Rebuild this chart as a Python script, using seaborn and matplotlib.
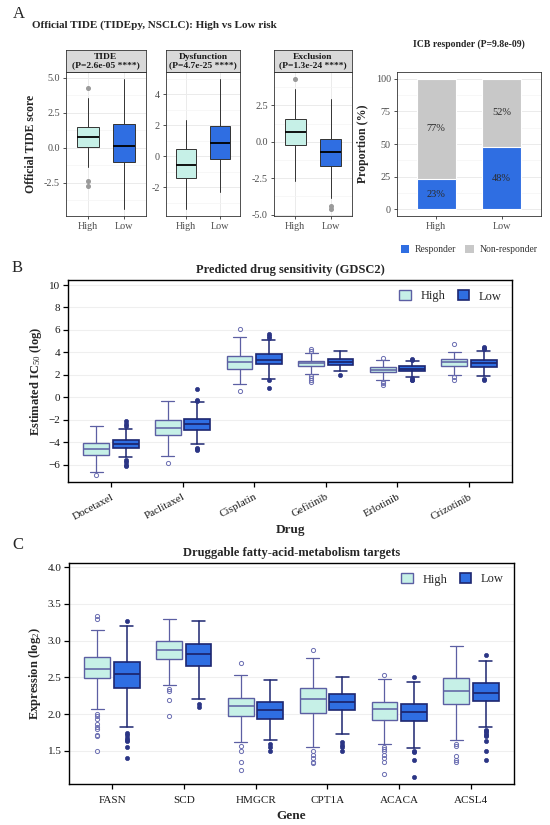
import numpy as np
import matplotlib
matplotlib.use('Agg')
import matplotlib.pyplot as plt
from matplotlib.patches import Patch
from matplotlib.ticker import MultipleLocator
import seaborn as sns

# ---- A: official TIDE facets (box stats, [High, Low]) ----
facet_titles = ['TIDE\n(P=2.6e-05 ****)', 'Dysfunction\n(P=4.7e-25 ****)', 'Exclusion\n(P=1.3e-24 ****)']
risk_groups = ['High', 'Low']
tide_med = [[0.80, 0.14], [-0.57, 0.85], [0.65, -0.71]]
tide_q1 = [[0.09, -1.04], [-1.40, -0.18], [-0.25, -1.66]]
tide_q3 = [[1.51, 1.68], [0.46, 1.98], [1.56, 0.20]]
tide_lo = [[-1.40, -4.40], [-3.44, -2.30], [-2.68, -3.86]]
tide_hi = [[3.57, 4.95], [2.35, 5.03], [3.60, 2.94]]
tide_out = [[[4.30, -2.34, -2.74], []], [[], []], [[4.35], [-4.38, -4.65]]]
tide_yticks = [[-2.5, 0.0, 2.5, 5.0], [-2, 0, 2, 4], [-5.0, -2.5, 0.0, 2.5]]
tide_tickfmt = ['{:.1f}', '{:.0f}', '{:.1f}']

# ---- A: ICB responder ----
icb_groups = ['High', 'Low']
responder_pct = [23, 48]
nonresponder_pct = [77, 52]

# ---- B: GDSC2 drug sensitivity ----
drugs = ['Docetaxel', 'Paclitaxel', 'Cisplatin', 'Gefitinib', 'Erlotinib', 'Crizotinib']
drug_high_med = [-4.64, -2.74, 3.15, 3.07, 2.47, 3.15]
drug_high_q1 = [-5.10, -3.39, 2.53, 2.80, 2.23, 2.83]
drug_high_q3 = [-4.05, -2.05, 3.69, 3.27, 2.71, 3.45]
drug_high_lo = [-6.67, -5.27, 1.22, 2.08, 1.52, 2.02]
drug_high_hi = [-2.59, -0.30, 5.36, 3.96, 3.36, 4.05]
drug_high_out = [[-6.9], [-5.9], [6.1, 0.55], [4.1, 4.3, 1.9, 1.7, 1.5, 1.35],
                 [3.5, 1.35, 1.25, 1.1], [4.75, 1.8, 1.5]]
drug_low_med = [-4.17, -2.35, 3.36, 3.15, 2.56, 3.07]
drug_low_q1 = [-4.50, -2.90, 2.95, 2.92, 2.35, 2.71]
drug_low_q3 = [-3.84, -1.90, 3.84, 3.39, 2.77, 3.30]
drug_low_lo = [-5.36, -4.14, 1.67, 2.30, 1.85, 1.90]
drug_low_hi = [-2.86, -0.45, 5.09, 4.11, 3.21, 4.08]
drug_low_out = [[-2.1, -2.4, -2.6, -5.6, -5.8, -6.0, -6.1], [0.75, -0.2, -0.3, -4.5, -4.6, -4.7],
                [5.3, 5.5, 5.6, 1.5, 0.85], [2.0], [3.4, 3.3, 1.7, 1.55, 1.5],
                [4.3, 4.4, 4.5, 1.65, 1.55]]
drug_yticks = [-6, -4, -2, 0, 2, 4, 6, 8, 10]

# ---- C: fatty-acid-metabolism genes ----
genes = ['FASN', 'SCD', 'HMGCR', 'CPT1A', 'ACACA', 'ACSL4']
gene_high_med = [2.61, 2.87, 2.11, 2.21, 2.065, 2.31]
gene_high_q1 = [2.49, 2.75, 1.97, 2.02, 1.92, 2.14]
gene_high_q3 = [2.78, 2.99, 2.22, 2.35, 2.16, 2.49]
gene_high_lo = [2.065, 2.39, 1.62, 1.55, 1.60, 1.65]
gene_high_hi = [3.14, 3.30, 2.53, 2.76, 2.48, 2.93]
gene_high_out = [[3.30, 3.33, 2.0, 1.97, 1.93, 1.87, 1.83, 1.80, 1.72, 1.70, 1.50],
                 [2.34, 2.32, 2.19, 1.98], [2.70, 1.56, 1.50, 1.35, 1.24],
                 [2.87, 1.50, 1.45, 1.40, 1.35, 1.33],
                 [2.53, 1.55, 1.53, 1.50, 1.45, 1.40, 1.35, 1.18],
                 [1.60, 1.56, 1.43, 1.38, 1.35]]
gene_low_med = [2.55, 2.815, 2.05, 2.16, 2.03, 2.29]
gene_low_q1 = [2.35, 2.65, 1.94, 2.05, 1.90, 2.18]
gene_low_q3 = [2.71, 2.95, 2.16, 2.27, 2.14, 2.42]
gene_low_lo = [1.83, 2.20, 1.645, 1.73, 1.54, 1.83]
gene_low_hi = [3.20, 3.26, 2.47, 2.51, 2.44, 2.72]
gene_low_out = [[3.26, 1.75, 1.72, 1.68, 1.65, 1.63, 1.55, 1.41], [2.14, 2.10],
                [1.60, 1.55, 1.50], [1.62, 1.58, 1.55, 1.50],
                [2.51, 1.50, 1.48, 1.37, 1.15],
                [2.81, 1.79, 1.77, 1.75, 1.72, 1.70, 1.63, 1.50, 1.37]]
gene_yticks = [1.5, 2.0, 2.5, 3.0, 3.5, 4.0]

HIGH_FILL = '#C6F0E7'
LOW_FILL = '#2F6EE2'
HIGH_EDGE = '#5C5FA3'
LOW_EDGE = '#1D2670'
GRAY_BAR = '#C8C8C8'

sns.set_theme(style='white')
plt.rcParams['font.family'] = ['Liberation Serif', 'DejaVu Serif']
plt.rcParams['mathtext.fontset'] = 'custom'
plt.rcParams['mathtext.rm'] = 'Liberation Serif'
plt.rcParams['mathtext.it'] = 'Liberation Serif:italic'
plt.rcParams['mathtext.bf'] = 'Liberation Serif:bold'

W, H = 550, 825
fig = plt.figure(figsize=(5.5, 8.25), dpi=100)


def add_ax(x0, y0, x1, y1):
    # pixel box -> figure fraction
    return fig.add_axes([x0 / W, 1 - y1 / H, (x1 - x0) / W, (y1 - y0) / H])


def stats(med, q1, q3, lo, hi, out):
    return dict(med=med, q1=q1, q3=q3, whislo=lo, whishi=hi, fliers=np.array(out))


def bw_style(ax):
    for s in ax.spines.values():
        s.set_color('#333333')
        s.set_linewidth(0.6)
    ax.tick_params(axis='both', length=2.5, width=0.6, color='#333333',
                   labelcolor='#4D4D4D', labelsize=7.3, pad=2)
    ax.tick_params(axis='both', which='both', direction='out', bottom=True, left=True)
    ax.grid(True, which='major', color='#EBEBEB', lw=0.7)
    ax.grid(True, which='minor', axis='y', color='#F4F4F4', lw=0.5)
    ax.set_axisbelow(True)


# ---------------- Panel A ----------------
fig.text(13 / W, 1 - 14 / H, 'A', fontsize=12, va='center', ha='left')
fig.text(32 / W, 1 - 25 / H, 'Official TIDE (TIDEpy, NSCLC): High vs Low risk',
         fontsize=8, fontweight='bold', va='center', ha='left')

facet_x = [(66, 146), (166, 240), (274, 352)]
for k, (x0, x1) in enumerate(facet_x):
    ax = add_ax(x0, 72, x1, 216)
    bw_style(ax)
    for j, fill in enumerate([HIGH_FILL, LOW_FILL]):
        st = stats(tide_med[k][j], tide_q1[k][j], tide_q3[k][j],
                   tide_lo[k][j], tide_hi[k][j], tide_out[k][j])
        ax.bxp([st], positions=[j], widths=0.6, patch_artist=True, showcaps=False,
               manage_ticks=False,
               boxprops=dict(facecolor=fill, edgecolor='#333333', linewidth=0.7),
               whiskerprops=dict(color='#333333', linewidth=0.7),
               medianprops=dict(color='black', linewidth=1.3),
               flierprops=dict(marker='o', markersize=2.6, markerfacecolor='#9A9A9A',
                               markeredgecolor='#9A9A9A'))
    vals = [v for j in range(2) for v in [tide_lo[k][j], tide_hi[k][j]] + tide_out[k][j]]
    lo, hi = min(vals), max(vals)
    pad = 0.05 * (hi - lo)
    ax.set_ylim(lo - pad, hi + pad)
    ax.set_xlim(-0.6, 1.6)
    ax.set_xticks([0, 1])
    ax.set_xticklabels(risk_groups)
    ax.set_yticks(tide_yticks[k])
    ax.set_yticklabels([tide_tickfmt[k].format(t) for t in tide_yticks[k]])
    step = tide_yticks[k][1] - tide_yticks[k][0]
    ax.yaxis.set_minor_locator(MultipleLocator(step / 2))
    ax.tick_params(axis='y', which='minor', length=0)
    if k == 0:
        ax.set_ylabel('Official TIDE score', fontsize=8.5, fontweight='bold', labelpad=5)
    # facet strip
    sx = add_ax(x0, 50, x1, 72)
    sx.set_facecolor('#D9D9D9')
    sx.set_xticks([])
    sx.set_yticks([])
    for s in sx.spines.values():
        s.set_color('#333333')
        s.set_linewidth(0.6)
    sx.text(0.5, 0.5, facet_titles[k], transform=sx.transAxes, ha='center', va='center',
            fontsize=6.8, fontweight='bold', color='#1A1A1A', linespacing=0.95)

# ICB responder stacked bars
ax = add_ax(397, 72, 541, 216)
bw_style(ax)
total = [r + n for r, n in zip(responder_pct, nonresponder_pct)]
sns.barplot(x=icb_groups, y=total, color=GRAY_BAR, width=0.6, saturation=1,
            edgecolor='white', linewidth=0.8, ax=ax)
sns.barplot(x=icb_groups, y=responder_pct, color=LOW_FILL, width=0.6, saturation=1,
            edgecolor='white', linewidth=0.8, ax=ax)
for i in range(len(icb_groups)):
    ax.text(i, responder_pct[i] / 2, f'{responder_pct[i]}%', ha='center', va='center',
            fontsize=7.5, color='#2B2B2B')
    ax.text(i, responder_pct[i] + nonresponder_pct[i] / 2, f'{nonresponder_pct[i]}%',
            ha='center', va='center', fontsize=7.5, color='#2B2B2B')
ax.set_xlim(-0.6, 1.6)
ax.set_ylim(-5, 105)
ax.set_yticks([0, 25, 50, 75, 100])
ax.yaxis.set_minor_locator(MultipleLocator(12.5))
ax.tick_params(axis='y', which='minor', length=0)
ax.set_xlabel('')
ax.set_ylabel('Proportion (%)', fontsize=8.5, fontweight='bold', labelpad=5)
ax.set_title('ICB responder (P=9.8e-09)', fontsize=7, fontweight='bold', pad=18)
ax.legend(handles=[Patch(facecolor=LOW_FILL, edgecolor='none', label='Responder'),
                   Patch(facecolor=GRAY_BAR, edgecolor='none', label='Non-responder')],
          loc='upper center', bbox_to_anchor=(0.5, -0.14), ncol=2, frameon=False,
          fontsize=6.9, handlelength=0.9, handleheight=0.9, handletextpad=0.6,
          columnspacing=0.9, labelcolor='#333333')


# ---------------- Panels B and C ----------------
def grouped_boxes(ax, cats, hi_stats, lo_stats, yticks, ylim, ylabel, xlabel, title,
                  rotate):
    pos = np.arange(len(cats))
    ax.bxp(hi_stats, positions=pos - 0.205, widths=0.36, patch_artist=True,
           manage_ticks=False, capwidths=0.18,
           boxprops=dict(facecolor=HIGH_FILL, edgecolor=HIGH_EDGE, linewidth=1.0),
           whiskerprops=dict(color=HIGH_EDGE, linewidth=0.9),
           capprops=dict(color=HIGH_EDGE, linewidth=0.9),
           medianprops=dict(color=HIGH_EDGE, linewidth=1.1),
           flierprops=dict(marker='o', markersize=3, markerfacecolor='none',
                           markeredgecolor='#6B6EB2', markeredgewidth=0.7))
    ax.bxp(lo_stats, positions=pos + 0.205, widths=0.36, patch_artist=True,
           manage_ticks=False, capwidths=0.18,
           boxprops=dict(facecolor=LOW_FILL, edgecolor=LOW_EDGE, linewidth=1.2),
           whiskerprops=dict(color=LOW_EDGE, linewidth=1.1),
           capprops=dict(color=LOW_EDGE, linewidth=1.1),
           medianprops=dict(color=LOW_EDGE, linewidth=1.3),
           flierprops=dict(marker='o', markersize=3, markerfacecolor='#2B3585',
                           markeredgecolor='#2B3585', markeredgewidth=0.5))
    ax.set_xlim(-0.6, len(cats) - 0.4)
    ax.set_ylim(*ylim)
    ax.set_xticks(pos)
    if rotate:
        ax.set_xticklabels(cats, rotation=28, ha='right', rotation_mode='anchor')
    else:
        ax.set_xticklabels(cats)
    ax.set_yticks(yticks)
    ax.grid(True, axis='y', color='#EFEFEF', lw=0.8)
    ax.set_axisbelow(True)
    for s in ax.spines.values():
        s.set_color('black')
        s.set_linewidth(1.0)
    ax.tick_params(axis='both', direction='out', length=3.5, width=0.9, color='black',
                   labelcolor='#1A1A1A', labelsize=8, bottom=True, left=True, pad=2)
    ax.tick_params(axis='x', pad=4 if rotate else 5)
    ax.set_ylabel(ylabel, fontsize=9, fontweight='bold', labelpad=3)
    ax.set_xlabel(xlabel, fontsize=9.5, fontweight='bold', labelpad=2 if rotate else 4)
    ax.set_title(title, fontsize=9, fontweight='bold', pad=5)
    ax.legend(handles=[Patch(facecolor=HIGH_FILL, edgecolor=HIGH_EDGE, lw=1.0, label='High'),
                       Patch(facecolor=LOW_FILL, edgecolor=LOW_EDGE, lw=1.2, label='Low')],
              loc='upper right', ncol=2, frameon=False, fontsize=9,
              handlelength=0.9, handleheight=0.9, handletextpad=0.8, columnspacing=1.0,
              borderaxespad=0.4)


fig.text(12 / W, 1 - 268 / H, 'B', fontsize=12, va='center', ha='left')
axb = add_ax(68, 280, 512, 482)
grouped_boxes(axb, drugs,
              [stats(*v) for v in zip(drug_high_med, drug_high_q1, drug_high_q3,
                                      drug_high_lo, drug_high_hi, drug_high_out)],
              [stats(*v) for v in zip(drug_low_med, drug_low_q1, drug_low_q3,
                                      drug_low_lo, drug_low_hi, drug_low_out)],
              drug_yticks, (-7.55, 10.45), r'Estimated IC$_{50}$ (log)', 'Drug',
              'Predicted drug sensitivity (GDSC2)', True)

fig.text(12 / W, 1 - 545 / H, 'C', fontsize=12, va='center', ha='left')
axc = add_ax(69, 563, 514, 784)
grouped_boxes(axc, genes,
              [stats(*v) for v in zip(gene_high_med, gene_high_q1, gene_high_q3,
                                      gene_high_lo, gene_high_hi, gene_high_out)],
              [stats(*v) for v in zip(gene_low_med, gene_low_q1, gene_low_q3,
                                      gene_low_lo, gene_low_hi, gene_low_out)],
              gene_yticks, (1.05, 4.055), r'Expression (log$_2$)', 'Gene',
              'Druggable fatty-acid-metabolism targets', False)

fig.savefig('out.png', dpi=100)
